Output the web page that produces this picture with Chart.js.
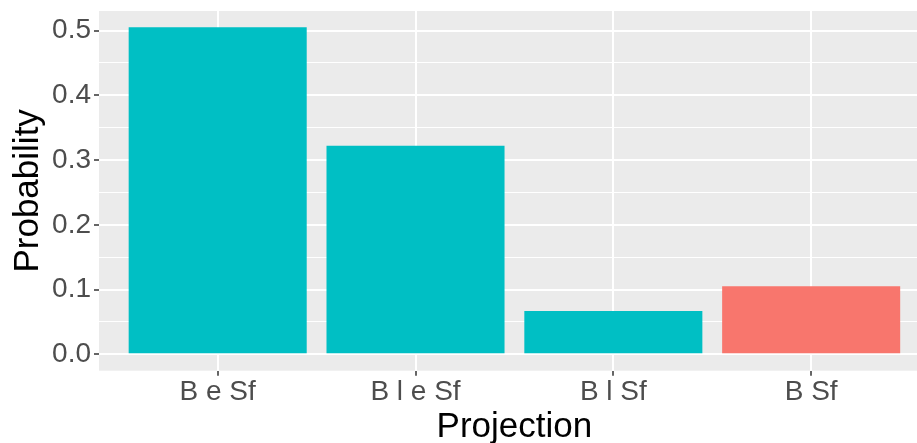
<!DOCTYPE html>
<html>
<head>
<meta charset="utf-8">
<script src="https://cdn.jsdelivr.net/npm/chart.js@4"></script>
<style>
  html, body { margin: 0; padding: 0; background: #ffffff; }
  #wrap { width: 917px; height: 443px; position: relative; }
</style>
</head>
<body>
<div id="wrap"><canvas id="c"></canvas></div>
<script>
// ---- data ----
const categories = ['B e Sf', 'B l e Sf', 'B l Sf', 'B Sf'];
const probabilities = [0.505, 0.322, 0.067, 0.105];
const highlighted = [false, false, false, true];
const yTickValues = [0, 0.1, 0.2, 0.3, 0.4, 0.5];
const yTickLabels = ['0.0', '0.1', '0.2', '0.3', '0.4', '0.5'];
const xTitle = 'Projection';
const yTitle = 'Probability';

// ---- styling ----
const TEAL = '#00BFC4';
const SALMON = '#F8766D';
const PANEL = '#EBEBEB';
const FONT = "'Liberation Sans', Arial, sans-serif";

const points = categories.map((c, i) => ({ x: i + 1, y: probabilities[i] }));
const colors = highlighted.map(h => h ? SALMON : TEAL);

// major + minor y positions
const yAll = [];
yTickValues.forEach((v, i) => {
  yAll.push({ value: v, major: true, label: yTickLabels[i] });
  if (i < yTickValues.length - 1) yAll.push({ value: (v + yTickValues[i + 1]) / 2, major: false, label: '' });
});

const X_MIN = 0.4, X_FULL_MAX = categories.length + 0.6;

const panelBg = {
  id: 'panelBg',
  beforeDraw(chart) {
    const { ctx, chartArea: a } = chart;
    ctx.save();
    ctx.fillStyle = PANEL;
    ctx.fillRect(a.left, a.top, a.right - a.left, a.bottom - a.top);
    ctx.restore();
  }
};

// x-axis title centred on the full (uncropped) panel range
const xTitlePlugin = {
  id: 'xTitlePlugin',
  afterDraw(chart) {
    const { ctx } = chart;
    const xs = chart.scales.x;
    const cx = xs.getPixelForValue((X_MIN + X_FULL_MAX) / 2);
    ctx.save();
    ctx.fillStyle = '#000000';
    ctx.font = '35px ' + FONT;
    ctx.textAlign = 'center';
    ctx.textBaseline = 'alphabetic';
    ctx.fillText(xTitle, cx, xs.bottom - 6);
    ctx.restore();
  }
};

const dataMax = Math.max(...probabilities);
const expand = dataMax * 0.05;

new Chart(document.getElementById('c'), {
  type: 'bar',
  data: {
    datasets: [{
      data: points,
      backgroundColor: colors,
      borderWidth: 0,
      barPercentage: 0.9,
      categoryPercentage: 1.0
    }]
  },
  plugins: [panelBg, xTitlePlugin],
  options: {
    responsive: true,
    maintainAspectRatio: false,
    animation: false,
    layout: { padding: { top: 11, right: 0, left: 0, bottom: 0 } },
    plugins: { legend: { display: false }, tooltip: { enabled: false } },
    scales: {
      x: {
        type: 'linear',
        offset: false,
        min: X_MIN,
        max: 4.535,
        afterBuildTicks(scale) {
          scale.ticks = categories.map((c, i) => ({ value: i + 1 }));
        },
        afterFit(scale) {
          scale.height = 72.3;
          scale.paddingLeft = 0; scale.paddingRight = 0;
        },
        border: { display: false },
        grid: {
          offset: false,
          color: '#FFFFFF',
          lineWidth: 2,
          drawTicks: true,
          tickLength: 5,
          tickColor: '#333333',
          tickWidth: 1.5
        },
        ticks: {
          color: '#4D4D4D',
          font: { family: FONT, size: 28, lineHeight: 1.0 },
          padding: 2.3,
          maxRotation: 0,
          autoSkip: false,
          callback: (v) => categories[Math.round(v) - 1]
        },
        title: { display: false }
      },
      y: {
        type: 'linear',
        min: -expand,
        max: dataMax + expand,
        afterBuildTicks(scale) {
          scale.ticks = yAll.map(t => ({ value: t.value }));
        },
        afterFit(scale) {
          scale.width = 99;
          scale.paddingTop = 0; scale.paddingBottom = 0;
        },
        border: { display: false },
        grid: {
          color: '#FFFFFF',
          lineWidth: (ctx) => (yAll[ctx.index] && yAll[ctx.index].major) ? 2 : 1,
          drawTicks: true,
          tickLength: 5,
          tickColor: (ctx) => (yAll[ctx.index] && yAll[ctx.index].major) ? '#333333' : 'rgba(0,0,0,0)',
          tickWidth: 1.5
        },
        ticks: {
          color: '#4D4D4D',
          font: { family: FONT, size: 28, lineHeight: 1.0 },
          padding: 3,
          autoSkip: false,
          callback: (v, i) => yAll[i] ? yAll[i].label : ''
        },
        title: {
          display: true,
          text: yTitle,
          color: '#000000',
          font: { family: FONT, size: 35, lineHeight: 1.0 },
          padding: { top: 10.5, bottom: 0 }
        }
      }
    }
  }
});
</script>
</body>
</html>
